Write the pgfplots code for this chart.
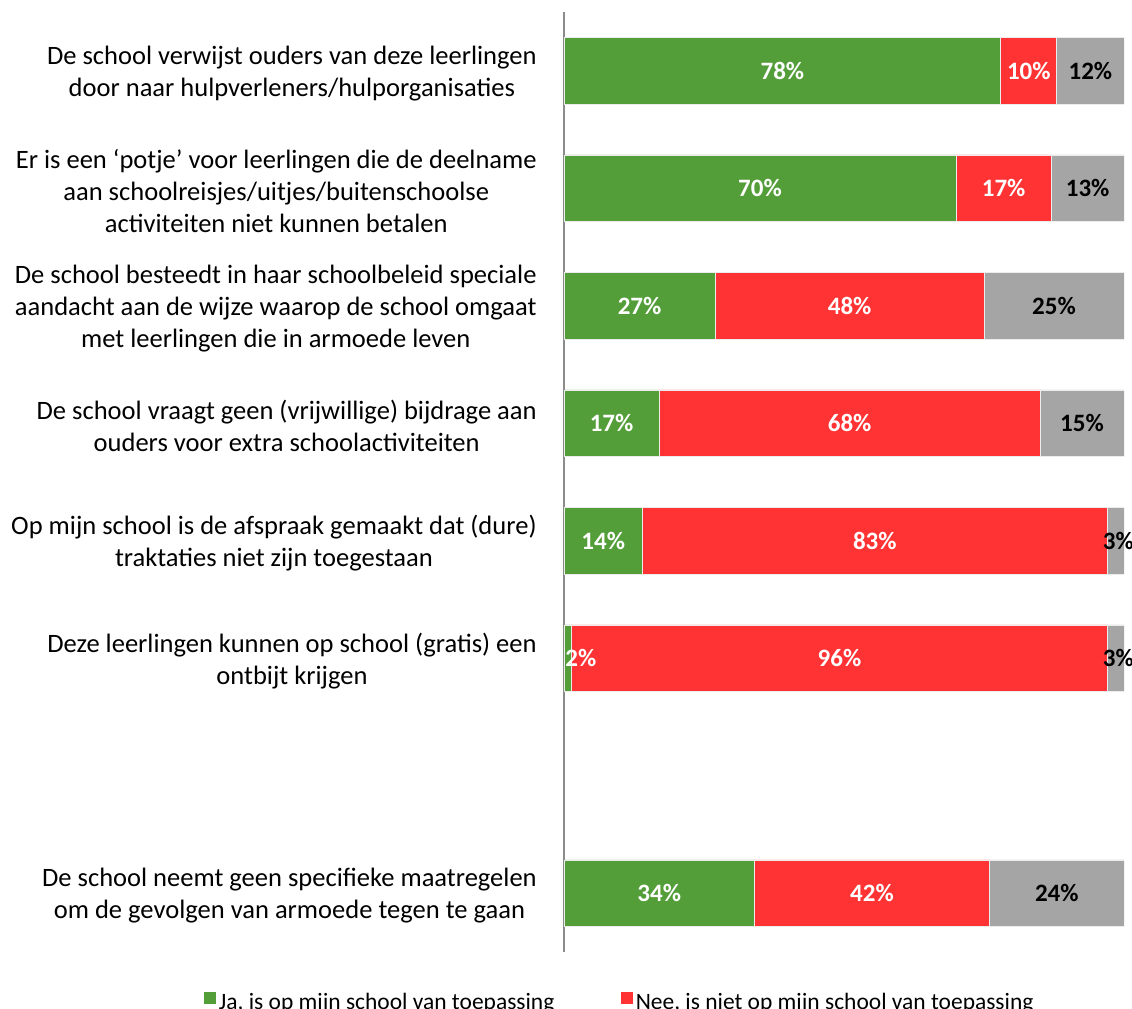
\documentclass[border=0pt]{standalone}
\usepackage{pgfplots}
\pgfplotsset{compat=1.18}
\usepackage{pgfplotstable}
\usepackage{fontspec}
\setmainfont{Carlito}
\definecolor{cgreen}{HTML}{549E39}
\definecolor{cred}{HTML}{FF3334}
\definecolor{cgray}{HTML}{A5A5A5}
\definecolor{caxis}{HTML}{8C8C8C}

\pgfplotstableread{
y g r n gm rm nm gl rl nl
0 78 10 12 39 83 94 78 10 12
1 70 17 13 35 78.5 93.5 70 17 13
2 27 48 25 13.5 51 87.5 27 48 25
3 17 68 15 8.5 51 92.5 17 68 15
4 14 83.1 2.9 7 55.5 99 14 83 3
5 1.3 95.8 2.9 3 49.2 99 2 96 3
7 34 42 24 17 55 88 34 42 24
}\data

\begin{document}
\begin{tikzpicture}
\begin{axis}[
  at={(423pt,-714pt)}, anchor=south west,
  scale only axis, width=420pt, height=705pt,
  xbar stacked, bar width=50pt,
  xmin=0, xmax=100, ymin=-0.5, ymax=7.5, y dir=reverse,
  axis x line=none, axis y line*=left,
  y axis line style={caxis, line width=1.2pt},
  ytick={0,1,2,3,4,5,7}, major tick length=0pt,
  yticklabels={
    {De school verwijst ouders van deze leerlingen\\door naar hulpverleners/hulporganisaties},
    {Er is een ‘potje’ voor leerlingen die de deelname\\aan schoolreisjes/uitjes/buitenschoolse\\activiteiten niet kunnen betalen},
    {De school besteedt in haar schoolbeleid speciale\\aandacht aan de wijze waarop de school omgaat\\met leerlingen die in armoede leven},
    {De school vraagt geen (vrijwillige) bijdrage aan\\ouders voor extra schoolactiviteiten},
    {Op mijn school is de afspraak gemaakt dat (dure)\\traktaties niet zijn toegestaan},
    {Deze leerlingen kunnen op school (gratis) een\\ontbijt krijgen},
    {De school neemt geen specifieke maatregelen\\om de gevolgen van armoede tegen te gaan}},
  yticklabel style={align=center, font=\fontsize{19.9}{24}\selectfont, xshift=-17pt, yshift=-2pt},
  legend image code/.code={\fill[#1,draw=none] (0pt,-1pt) rectangle (9pt,8pt);},
  legend style={draw=none, fill=none, at={(-0.65,-0.038)}, anchor=north west,
    font=\fontsize{17.6}{22}\selectfont, legend columns=-1,
    /tikz/every even column/.append style={column sep=48pt}},
]
\addplot[fill=cgreen, draw=white!85!gray, line width=0.5pt] table[x=g,y=y]{\data};
\addplot[fill=cred, draw=white!85!gray, line width=0.5pt] table[x=r,y=y]{\data};
\addplot[fill=cgray, draw=white!85!gray, line width=0.5pt] table[x=n,y=y]{\data};
\legend{{Ja, is op mijn school van toepassing},{Nee, is niet op mijn school van toepassing}}
\end{axis}
\begin{axis}[
  at={(423pt,-714pt)}, anchor=south west,
  scale only axis, width=420pt, height=705pt,
  xmin=0, xmax=100, ymin=-0.5, ymax=7.5, y dir=reverse,
  hide axis,
  nodes near coords={\pgfmathprintnumber[fixed,precision=0,assume math mode=true]{\pgfplotspointmeta}\%},
  nodes near coords style={anchor=center, font=\fontsize{18.75}{22}\selectfont\bfseries},
]
\addplot[draw=none, mark=none, point meta=explicit, nodes near coords style={text=white}] table[x=gm,y=y,meta=gl]{\data};
\addplot[draw=none, mark=none, point meta=explicit, nodes near coords style={text=white}] table[x=rm,y=y,meta=rl]{\data};
\addplot[draw=none, mark=none, point meta=explicit, nodes near coords style={text=black}] table[x=nm,y=y,meta=nl]{\data};
\end{axis}
\pgfresetboundingbox
\useasboundingbox (0,0) rectangle (849pt,-756pt);
\end{tikzpicture}
\end{document}
